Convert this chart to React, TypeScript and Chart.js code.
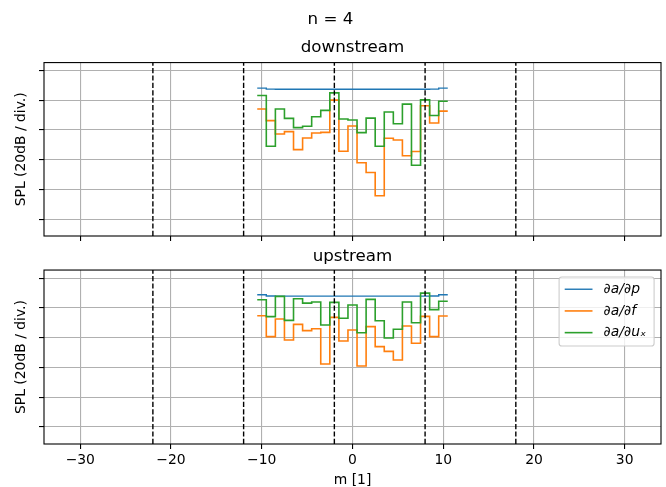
import React, { useEffect, useRef } from "react";
import { Chart, registerables } from "chart.js";

Chart.register(...registerables);

// ---------- data ----------
const MODES = [-10, -9, -8, -7, -6, -5, -4, -3, -2, -1, 0, 1, 2, 3, 4, 5, 6, 7, 8, 9, 10];

const DOWN_P = [88.2, 87.5, 87.4, 87.4, 87.4, 87.4, 87.4, 87.4, 87.4, 87.4, 87.4, 87.4, 87.4, 87.4, 87.4, 87.4, 87.4, 87.4, 87.4, 87.5, 88.2];
const DOWN_F = [74.1, 66.3, 57.3, 58.9, 46.8, 54.6, 58.0, 58.4, 80.1, 45.7, 62.7, 37.9, 31.4, 15.7, 54.4, 53.3, 42.6, 45.5, 76.3, 64.7, 72.7];
const DOWN_U = [83.2, 49.0, 74.1, 67.8, 61.6, 62.5, 68.9, 73.2, 85.0, 67.4, 66.7, 58.2, 68.0, 49.0, 72.1, 64.2, 77.4, 36.3, 80.3, 69.8, 79.4];

const UP_P = [88.8, 88.0, 87.9, 87.9, 87.9, 87.9, 87.9, 87.9, 87.9, 87.9, 87.9, 87.9, 87.9, 87.9, 87.9, 87.9, 87.9, 87.9, 87.9, 88.0, 88.8];
const UP_F = [74.7, 60.7, 72.5, 58.4, 68.9, 64.7, 66.0, 42.3, 73.6, 57.8, 65.1, 41.0, 67.4, 54.0, 50.8, 45.0, 67.8, 56.2, 74.3, 60.7, 74.5];
const UP_U = [85.5, 74.1, 87.7, 71.6, 86.1, 83.2, 83.9, 68.5, 83.7, 73.0, 81.9, 63.3, 85.7, 71.4, 59.8, 65.6, 83.9, 70.0, 89.9, 78.8, 84.4];

const CUT_ON = [-22, -12, -2, 8, 18];

const X_TICKS = [-30, -20, -10, 0, 10, 20, 30];
const Y_TICKS = [0, 20, 40, 60, 80, 100];
const X_MIN = -34;
const X_MAX = 34;
const Y_MIN = -11.4;
const Y_MAX = 105.4;

const SERIES_LABELS = ["∂a/∂p", "∂a/∂f", "∂a/∂uₓ"];
const SUPTITLE = "n = 4";
const TITLES = ["downstream", "upstream"];
const Y_LABEL = "SPL (20dB / div.)";
const X_LABEL = "m [1]";

// ---------- styling ----------
const COLORS = ["#1f77b4", "#ff7f0e", "#2ca02c"];
const WIDTHS = [1.4, 1.6, 1.6];
const FONT = "DejaVu Sans";
const TICK_FS = 13.9;
const TITLE_FS = 16.7;

function stepPoints(values: number[]) {
  const pts = values.map((v, i) => ({ x: MODES[i] - 0.5, y: v }));
  pts.push({ x: MODES[MODES.length - 1] + 0.5, y: values[values.length - 1] });
  return pts;
}

function buildDatasets(p: number[], f: number[], u: number[]) {
  const series = [p, f, u].map((vals, i) => ({
    label: SERIES_LABELS[i],
    data: stepPoints(vals),
    borderColor: COLORS[i],
    backgroundColor: COLORS[i],
    borderWidth: WIDTHS[i],
    stepped: true,
    pointRadius: 0,
    fill: false,
    order: 3 - i,
    inLegend: true,
  }));
  const cuts = CUT_ON.map((c) => ({
    label: "cut-on " + c,
    data: [
      { x: c, y: Y_MIN },
      { x: c, y: Y_MAX },
    ],
    borderColor: "#000000",
    borderWidth: 1.4,
    borderDash: [5.2, 2.2],
    pointRadius: 0,
    fill: false,
    order: 0,
    inLegend: false,
  }));
  return [...series, ...cuts];
}

const framePlugin = {
  id: "axesFrame",
  afterDatasetsDraw(chart: any) {
    const { ctx, chartArea: a } = chart;
    ctx.save();
    ctx.strokeStyle = "#000000";
    ctx.lineWidth = 1.1;
    ctx.strokeRect(a.left, a.top, a.right - a.left, a.bottom - a.top);
    ctx.restore();
  },
};

const legendPlugin = {
  id: "mplLegend",
  afterDraw(chart: any) {
    const { ctx, chartArea: a } = chart;
    const items = chart.data.datasets.filter((d: any) => d.inLegend);
    const pad = 6.9;
    const w = 95;
    const h = 69;
    const x0 = a.right - pad - w;
    const y0 = a.top + pad;
    ctx.save();
    ctx.beginPath();
    ctx.roundRect(x0, y0, w, h, 2.8);
    ctx.fillStyle = "rgba(255,255,255,0.8)";
    ctx.fill();
    ctx.strokeStyle = "#cccccc";
    ctx.lineWidth = 1.1;
    ctx.stroke();
    items.forEach((d: any, i: number) => {
      const cy = y0 + 12.3 + i * 21.7;
      ctx.beginPath();
      ctx.strokeStyle = d.borderColor;
      ctx.lineWidth = d.borderWidth;
      ctx.moveTo(x0 + 5.6, cy);
      ctx.lineTo(x0 + 5.6 + 27.8, cy);
      ctx.stroke();
      ctx.fillStyle = "#000000";
      ctx.font = `italic ${TICK_FS}px "${FONT}"`;
      ctx.textBaseline = "middle";
      ctx.textAlign = "left";
      ctx.fillText(d.label, x0 + 5.6 + 27.8 + 11.1, cy);
    });
    ctx.restore();
  },
};

function makeOptions(opts: {
  showXLabels: boolean;
  xHeight: number;
  titles: any;
}) {
  return {
    responsive: false,
    animation: false as const,
    devicePixelRatio: 1,
    events: [],
    layout: { padding: { left: 0, right: 5, top: 0, bottom: 0 } },
    plugins: {
      legend: { display: false },
      tooltip: { enabled: false },
      ...opts.titles,
    },
    scales: {
      x: {
        type: "linear" as const,
        min: X_MIN,
        max: X_MAX,
        afterBuildTicks: (s: any) => {
          s.ticks = X_TICKS.map((v) => ({ value: v }));
        },
        afterFit: (s: any) => {
          s.height = opts.xHeight;
        },
        grid: {
          color: "#b0b0b0",
          lineWidth: 1.1,
          drawTicks: true,
          tickLength: 5,
          tickColor: "#000000",
          tickWidth: 1.1,
        },
        border: { display: false },
        ticks: {
          display: opts.showXLabels,
          color: "#000000",
          font: { family: FONT, size: TICK_FS },
          padding: 3.5,
          maxRotation: 0,
          callback: (v: any) => (v < 0 ? "\u2212" + Math.abs(v) : String(v)),
        },
        title: {
          display: opts.showXLabels,
          text: X_LABEL,
          color: "#000000",
          font: { family: FONT, size: TICK_FS },
          padding: { top: 0, bottom: 1.6 },
        },
      },
      y: {
        type: "linear" as const,
        min: Y_MIN,
        max: Y_MAX,
        afterBuildTicks: (s: any) => {
          s.ticks = Y_TICKS.map((v) => ({ value: v }));
        },
        afterFit: (s: any) => {
          s.width = 44;
        },
        grid: {
          color: "#b0b0b0",
          lineWidth: 1.1,
          drawTicks: true,
          tickLength: 5,
          tickColor: "#000000",
          tickWidth: 1.1,
        },
        border: { display: false },
        ticks: { display: false },
        title: {
          display: true,
          text: Y_LABEL,
          color: "#000000",
          font: { family: FONT, size: TICK_FS },
          padding: { top: 12.6, bottom: 0 },
        },
      },
    },
  };
}

export default function App() {
  const topRef = useRef<HTMLCanvasElement>(null);
  const botRef = useRef<HTMLCanvasElement>(null);

  useEffect(() => {
    const top = new Chart(topRef.current as HTMLCanvasElement, {
      type: "line",
      data: { datasets: buildDatasets(DOWN_P, DOWN_F, DOWN_U) as any },
      options: makeOptions({
        showXLabels: false,
        xHeight: 14,
        titles: {
          title: {
            display: true,
            text: SUPTITLE,
            color: "#000000",
            font: { family: FONT, size: TITLE_FS, weight: "normal" },
            padding: { top: 10, bottom: 0 },
            fullSize: true,
          },
          subtitle: {
            display: true,
            text: TITLES[0],
            color: "#000000",
            font: { family: FONT, size: TITLE_FS, weight: "normal" },
            padding: { top: 8, bottom: 4.5 },
            fullSize: false,
          },
        },
      }) as any,
      plugins: [framePlugin],
    });
    const bot = new Chart(botRef.current as HTMLCanvasElement, {
      type: "line",
      data: { datasets: buildDatasets(UP_P, UP_F, UP_U) as any },
      options: makeOptions({
        showXLabels: true,
        xHeight: 46,
        titles: {
          title: {
            display: true,
            text: TITLES[1],
            color: "#000000",
            font: { family: FONT, size: TITLE_FS, weight: "normal" },
            padding: { top: 8.7, bottom: 3.3 },
            fullSize: false,
          },
        },
      }) as any,
      plugins: [framePlugin, legendPlugin],
    });
    return () => {
      top.destroy();
      bot.destroy();
    };
  }, []);

  return (
    <div
      style={{
        position: "fixed",
        left: 0,
        top: 0,
        width: 666,
        height: 487,
        overflow: "hidden",
        background: "#ffffff",
      }}
    >
      <canvas
        ref={topRef}
        width={666}
        height={250}
        style={{ position: "absolute", left: 0, top: 0, width: 666, height: 250 }}
      />
      <canvas
        ref={botRef}
        width={666}
        height={252}
        style={{ position: "absolute", left: 0, top: 238, width: 666, height: 252 }}
      />
    </div>
  );
}
